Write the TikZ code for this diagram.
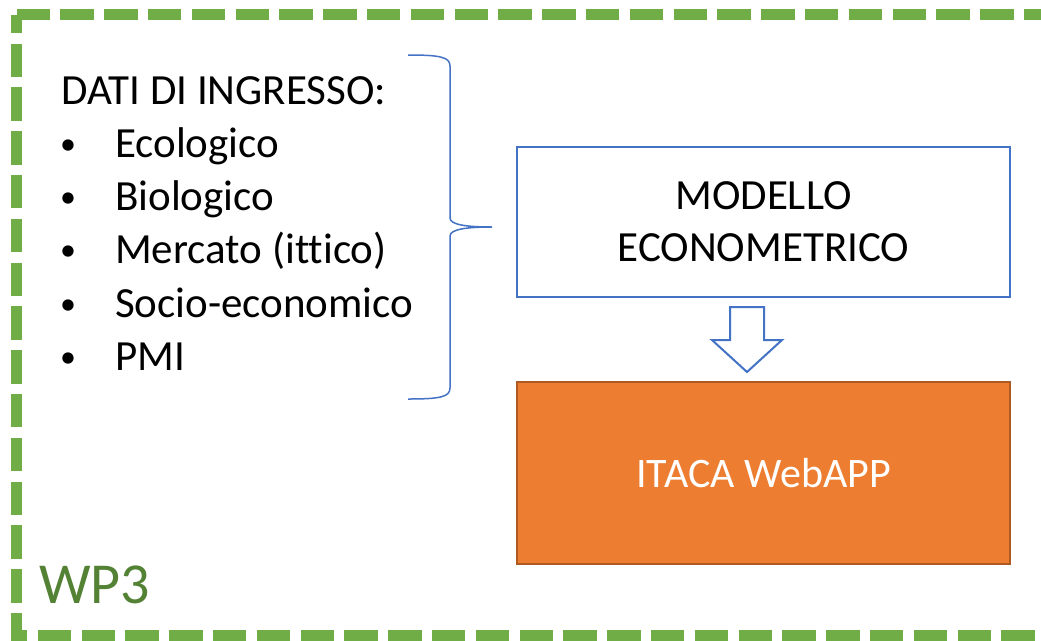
\documentclass[tikz,border=0pt]{standalone}
\usepackage{fontspec}
\setmainfont{Carlito}[Ligatures=NoCommon]
\usepackage{tikz}
\usetikzlibrary{calc}

\definecolor{borderGreen}{HTML}{70AD47}
\definecolor{wpGreen}{HTML}{548235}
\definecolor{boxBlue}{HTML}{4472C4}
\definecolor{appOrange}{HTML}{ED7D31}
\definecolor{appEdge}{HTML}{AE5A21}

\tikzset{
	listtext/.style = {font=\fontsize{43}{53}\selectfont, anchor=base west, inner sep=0},
	blueline/.style = {draw=boxBlue, line width=2},
}

\begin{document}
\begin{tikzpicture}[x=1pt, y=-1pt]
	\clip (0,0) rectangle (1041,640);
	\fill[white] (0,0) rectangle (1041,640);

	\draw[borderGreen, line width=11, dash pattern=on 33.5 off 10.3] (16.5,14.5) -- (1069.25,14.5) -- (1069.25,635.5) -- (16.5,635.5) -- cycle;

	\node[listtext] (head) at (61,104) {DATI DI INGRESSO:};
	\foreach \t [count=\i] in {Ecologico, Biologico, Mercato (ittico), Socio-economico, PMI} {
		\node[font=\fontsize{32}{40}\selectfont, anchor=base, inner sep=0] (dot\i) at (68,{101+53.3*\i}) {\textbullet};
		\node[listtext] (item\i) at (115,{104+53.3*\i}) {\t};
	}

	\draw[boxBlue, line width=1.5] (408,55) .. controls (440,55) and (450,57) .. (450,66) -- (450,218) .. controls (450,225) and (468,227) .. (492,227)
		.. controls (468,227) and (450,229) .. (450,236) -- (450,388) .. controls (450,397) and (440,399) .. (408,399);

	\node[blueline, fill=white, minimum width=493, minimum height=150, align=center, font=\fontsize{43}{52}\selectfont] (modello) at (763.5,222) {MODELLO\\ECONOMETRICO};
	\node[draw=appEdge, line width=2, fill=appOrange, minimum width=493, minimum height=182, text=white, font=\fontsize{42}{50}\selectfont] (itaca) at (763.5,473) {ITACA WebAPP};

	\draw[blueline, fill=white] (730,307) -- ++(34,0) -- ++(0,33) -- ++(18,0) -- ++(-35,32) -- ++(-35,-32) -- ++(18,0) -- cycle;

	\node[font=\fontsize{58}{70}\selectfont, text=wpGreen, anchor=base west, inner sep=0] (wp) at (39,603) {WP3};
\end{tikzpicture}
\end{document}
